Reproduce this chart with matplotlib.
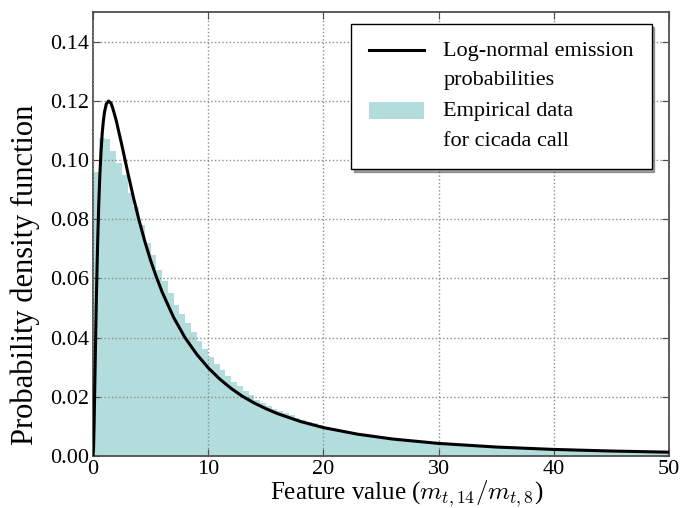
import numpy as np
import matplotlib
matplotlib.use("Agg")
import matplotlib.pyplot as plt

plt.rcParams["font.family"] = ["Liberation Serif", "DejaVu Serif"]
plt.rcParams["mathtext.fontset"] = "cm"

# Empirical histogram: bin left edges (width 0.5) and densities
bin_width = 0.5
hist_heights = [
    0.096, 0.1075, 0.107, 0.103, 0.099, 0.095, 0.089, 0.084, 0.078, 0.072,
    0.068, 0.063, 0.059, 0.055, 0.051, 0.048, 0.045, 0.042, 0.039, 0.036,
    0.0335, 0.031, 0.029, 0.027, 0.025, 0.0235, 0.022, 0.0205, 0.019, 0.018,
    0.017, 0.016, 0.0152, 0.0145, 0.0137, 0.013, 0.0123, 0.0116, 0.011, 0.0104,
    0.0098, 0.0093, 0.0088, 0.0083, 0.0079, 0.0075, 0.0072, 0.0069, 0.0066, 0.0063,
    0.0061, 0.0058, 0.0056, 0.0054, 0.0052, 0.0050, 0.0048, 0.0046, 0.0045, 0.0043,
    0.0042, 0.0040, 0.0039, 0.0038, 0.0036, 0.0035, 0.0034, 0.0033, 0.0032, 0.0031,
    0.0030, 0.0029, 0.0028, 0.0027, 0.0026, 0.00255, 0.0025, 0.0024, 0.0023, 0.00226,
    0.0022, 0.0021, 0.00207, 0.0020, 0.00196, 0.0019, 0.00185, 0.0018, 0.00175, 0.0017,
    0.00166, 0.00161, 0.00157, 0.00153, 0.00149, 0.00145, 0.00141, 0.00138, 0.00134, 0.00131,
]
bin_edges = [i * bin_width for i in range(len(hist_heights))]

# Log-normal emission probability curve, sampled from the figure
curve_x = [0.0, 0.05, 0.1, 0.2, 0.3, 0.4, 0.5, 0.6, 0.7, 0.8, 0.9, 1.0, 1.15, 1.35,
           1.55, 1.7, 2.0, 2.5, 3.0, 3.5, 4.0, 4.5, 5.0, 5.5, 6.0, 7.0, 8.0, 9.0,
           10.0, 11.0, 12.0, 13.0, 14.0, 15.0, 16.0, 18.0, 20.0, 23.0, 26.0, 30.0,
           35.0, 40.0, 45.0, 50.0]
curve_y = [0.0, 0.0028, 0.0114, 0.0338, 0.0547, 0.0717, 0.0851, 0.0954, 0.1030, 0.1090,
           0.1132, 0.1162, 0.1189, 0.1199, 0.1193, 0.1177, 0.1136, 0.1051, 0.0961, 0.0875,
           0.0796, 0.0725, 0.0661, 0.0605, 0.0554, 0.0468, 0.0399, 0.0344, 0.0298, 0.0260,
           0.0228, 0.0201, 0.0179, 0.0160, 0.01435, 0.01167, 0.0096, 0.00735, 0.00574,
           0.00425, 0.00303, 0.00222, 0.00168, 0.00129]

x_ticks = [0, 10, 20, 30, 40, 50]
y_ticks = [0.00, 0.02, 0.04, 0.06, 0.08, 0.10, 0.12, 0.14]

fig = plt.figure(figsize=(6.83, 5.08), dpi=100)
ax = fig.add_axes([93 / 683, 1 - 456 / 508, 576 / 683, 444 / 508])

ax.bar(bin_edges, hist_heights, width=bin_width, align="edge",
       color="#b3dcdd", linewidth=0, zorder=1,
       label="Empirical data\nfor cicada call")
ax.plot(curve_x, curve_y, color="black", lw=2.2, zorder=3,
        label="Log-normal emission\nprobabilities")

ax.set_xlim(0, 50)
ax.set_ylim(0, 0.15)
ax.set_xticks(x_ticks)
ax.set_yticks(y_ticks)
ax.set_yticklabels([f"{v:.2f}" for v in y_ticks])
ax.tick_params(direction="in", top=True, right=True, labelsize=16, length=5,
               color="0.3", pad=3)
ax.set_axisbelow(False)
ax.grid(True, linestyle=":", color="0.55", lw=1.0, zorder=2)
for sp in ax.spines.values():
    sp.set_color("0.25")
    sp.set_linewidth(1.2)

ax.set_xlabel(r"Feature value ($m_{t,14}/m_{t,8}$)", fontsize=18, va="center")
ax.xaxis.set_label_coords(0.545, -0.085)
ax.set_ylabel("Probability density function", fontsize=22, va="center")
ax.yaxis.set_label_coords(-0.118, 0.409)

leg = ax.legend(loc="upper right", bbox_to_anchor=(0.970, 0.973),
                borderaxespad=0, fontsize=16, handlelength=2.5, handleheight=0.77,
                fancybox=False, shadow=True, framealpha=1,
                labelspacing=0.55, borderpad=0.8, handletextpad=0.86)
leg.get_frame().set_edgecolor("black")
for t in leg.get_texts():
    t.set_linespacing(1.75)
# put each handle level with the first line of its two-line label
for col in leg._legend_handle_box.get_children():
    for row in col.get_children():
        row.align = "top"

fig.savefig("out.png", dpi=100)
